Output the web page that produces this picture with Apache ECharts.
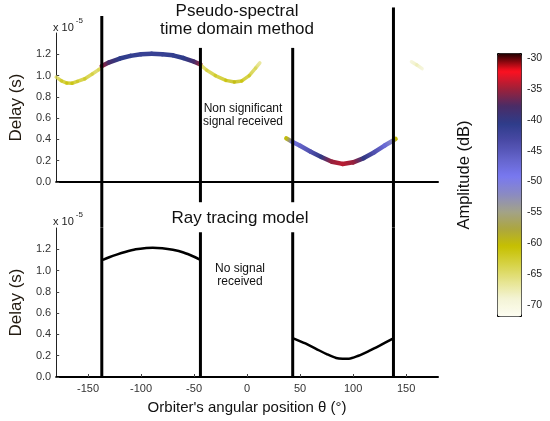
<!DOCTYPE html>
<html><head><meta charset="utf-8">
<script src="https://cdn.jsdelivr.net/npm/echarts@6/dist/echarts.min.js"></script>
<style>html,body{margin:0;padding:0;background:#fff}#c{width:550px;height:421px}</style>
</head><body><div id="c"></div>
<script>
const FONT = '"Liberation Sans", Arial, sans-serif';

// ---- Axis ticks ----
const angleTicks = [-150, -100, -50, 0, 50, 100, 150];
const delayTicks = [0, 0.2, 0.4, 0.6, 0.8, 1.0, 1.2];
const ampTicks = [-70, -65, -60, -55, -50, -45, -40, -35, -30];

// ---- Pseudo-spectral (top panel): angle (deg), delay (x1e-5 s), amplitude (dB) ----
const psYellowLeftAngle = [-180, -175, -170, -165, -160, -153, -146, -140, -137];
const psYellowLeftDelay = [0.985, 0.95, 0.93, 0.928, 0.945, 0.97, 1.015, 1.055, 1.08];
const psYellowLeftAmp   = [-64, -62, -61, -61, -62, -62, -63, -64, -65];

const psArc1Angle = [-137, -130, -120, -110, -100, -90, -80, -70, -60, -50, -44];
const psArc1Delay = [1.09, 1.125, 1.16, 1.185, 1.2, 1.205, 1.2, 1.19, 1.165, 1.13, 1.105];
const psArc1Amp   = [-35, -38, -40.5, -41, -41.5, -41.5, -41.5, -41, -40.5, -38, -35];

const psYellowMidAngle = [-44, -38, -30, -20, -12, -5, 2, 8, 12];
const psYellowMidDelay = [1.1, 1.05, 1.0, 0.955, 0.94, 0.95, 1.0, 1.07, 1.12];
const psYellowMidAmp   = [-64, -63, -62, -61, -60, -61, -62, -64, -66];

const psFaintRightAngle = [155, 160, 165];
const psFaintRightDelay = [1.13, 1.1, 1.065];
const psFaintRightAmp   = [-69, -68, -69];

const psArc2Angle = [37, 43, 50, 60, 70, 80, 90, 100, 110, 120, 130, 137, 140];
const psArc2Delay = [0.41, 0.375, 0.34, 0.285, 0.235, 0.19, 0.17, 0.185, 0.225, 0.28, 0.345, 0.385, 0.405];
const psArc2Amp   = [-60, -48, -46, -44, -40, -35, -34, -35, -40, -44, -47, -52, -60];

// ---- Ray tracing (bottom panel) ----
const rtArc1Angle = [-136, -130, -123, -115, -105, -95, -89, -80, -70, -60, -50, -45];
const rtArc1Delay = [1.10, 1.125, 1.15, 1.175, 1.2, 1.213, 1.215, 1.21, 1.195, 1.17, 1.13, 1.105];
const rtArc2Angle = [43, 55, 65, 75, 84, 90, 96, 105, 115, 125, 137];
const rtArc2Delay = [0.366, 0.315, 0.265, 0.215, 0.178, 0.172, 0.172, 0.2, 0.245, 0.295, 0.358];

// ---- Vertical boundary lines (angle, delay extents in each panel) ----
const boundaryAngle = [-137, -44, 43, 138];
const boundaryTopUpper = [1.56, 1.26, 1.26, 1.64];
const boundaryTopLower = [-0.43, -0.19, -0.19, -0.43];
const boundaryBottomUpper = [1.4, 1.36, 1.36, 1.4];
const boundaryBottomLower = [0, 0, 0, 0];

// ---- Colour scale ----
const ampColors = ['#fdfdf2', '#f4f4d6', '#e6e48e', '#d6d244', '#c6c000', '#aca640', '#a2a28a',
  '#8a8ac4', '#7878f0', '#6464ca', '#4a4aa6', '#2e3c8a', '#4a2c66', '#a02038', '#ff1020', '#200000'];

// build custom-series data
const segments = [
  [psYellowLeftAngle, psYellowLeftDelay, psYellowLeftAmp],
  [psArc1Angle, psArc1Delay, psArc1Amp],
  [psYellowMidAngle, psYellowMidDelay, psYellowMidAmp],
  [psFaintRightAngle, psFaintRightDelay, psFaintRightAmp],
  [psArc2Angle, psArc2Delay, psArc2Amp]
];
const psData = [];
segments.forEach((s, k) => s[0].forEach((a, i) => psData.push([a, s[1][i], s[2][i], k])));

function renderSegment(params, api) {
  const i = params.dataIndexInside;
  if (i >= params.dataInsideLength - 1) return null;
  if (api.value(3, i + 1) !== api.value(3)) return null;
  const p0 = api.coord([api.value(0), api.value(1)]);
  const p1 = api.coord([api.value(0, i + 1), api.value(1, i + 1)]);
  const c0 = api.visual('color');
  const c1 = api.visual('color', i + 1);
  const weak = api.value(2) < -55 && api.value(2, i + 1) < -55;
  return {
    type: 'line',
    shape: { x1: p0[0], y1: p0[1], x2: p1[0], y2: p1[1] },
    style: {
      stroke: new echarts.graphic.LinearGradient(p0[0], p0[1], p1[0], p1[1],
        [{ offset: 0, color: c0 }, { offset: 1, color: c1 }], true),
      lineWidth: weak ? 3.5 : 4.5,
      lineCap: 'round',
      opacity: weak ? 0.8 : 1
    }
  };
}

function boundarySeries(xi, upper, lower) {
  return boundaryAngle.map((a, i) => ({
    type: 'line', xAxisIndex: xi, yAxisIndex: xi, clip: false, symbol: 'none', silent: true, z: 10,
    lineStyle: { color: '#000', width: 3 },
    data: [[a, upper[i]], [a, lower[i]]]
  }));
}

const labelStyle = { fontFamily: FONT, fontSize: 11, color: '#333' };

function delayAxis(gi) {
  return {
    type: 'value', gridIndex: gi, min: 0, max: 1.4,
    name: 'Delay (s)', nameLocation: 'middle', nameGap: 29,
    nameTextStyle: { fontFamily: FONT, fontSize: 17, color: '#221a10' },
    axisLine: { show: true, onZero: false, lineStyle: { color: '#222', width: 1 } },
    axisTick: { show: true, inside: true, length: 3, customValues: delayTicks, lineStyle: { color: '#444' } },
    axisLabel: Object.assign({ customValues: delayTicks, margin: 5, formatter: v => v.toFixed(1) }, labelStyle),
    splitLine: { show: false }
  };
}

const supRich = {
  a: { fontFamily: FONT, fontSize: 11, fontWeight: 'normal', color: '#222', lineHeight: 16, verticalAlign: 'bottom' },
  s: { fontFamily: FONT, fontSize: 8, fontWeight: 'normal', color: '#222', lineHeight: 16, verticalAlign: 'top', padding: [0, 0, 0, 2] }
};

const option = {
  animation: false,
  backgroundColor: '#fff',
  title: [
    { text: 'Pseudo-spectral\ntime domain method', left: 237, top: 2, textAlign: 'center', padding: 0,
      textStyle: { fontFamily: FONT, fontSize: 17, fontWeight: 'normal', color: '#111', lineHeight: 18 } },
    { text: 'Ray tracing model', left: 240, top: 209, textAlign: 'center', padding: 0,
      textStyle: { fontFamily: FONT, fontSize: 17, fontWeight: 'normal', color: '#111', lineHeight: 18 } },
    { text: 'Non significant\nsignal received', left: 243, top: 102, textAlign: 'center', padding: 0,
      textStyle: { fontFamily: FONT, fontSize: 12, fontWeight: 'normal', color: '#111', lineHeight: 13 } },
    { text: 'No signal\nreceived', left: 240, top: 262, textAlign: 'center', padding: 0,
      textStyle: { fontFamily: FONT, fontSize: 12, fontWeight: 'normal', color: '#111', lineHeight: 13 } },
    { text: '{a|x 10}{s|-5}', left: 53, top: 17, padding: 0, textStyle: { fontWeight: 'normal', rich: supRich } },
    { text: '{a|x 10}{s|-5}', left: 53, top: 211, padding: 0, textStyle: { fontWeight: 'normal', rich: supRich } }
  ],
  grid: [
    { left: 52, top: 33, width: 386, height: 149 },
    { left: 52, top: 228, width: 386, height: 149 },
    { left: 497, top: 58, width: 24, height: 247 }
  ],
  xAxis: [
    { type: 'value', gridIndex: 0, min: -180, max: 180,
      axisLine: { show: true, onZero: false, lineStyle: { color: '#000', width: 2 } },
      axisTick: { show: false }, axisLabel: { show: false }, splitLine: { show: false } },
    { type: 'value', gridIndex: 1, min: -180, max: 180,
      name: "Orbiter's angular position \u03b8 (\u00b0)", nameLocation: 'middle', nameGap: 23,
      nameTextStyle: { fontFamily: FONT, fontSize: 15, color: '#111' },
      axisLine: { show: true, onZero: false, lineStyle: { color: '#000', width: 2 } },
      axisTick: { show: true, inside: true, length: 3, customValues: angleTicks, lineStyle: { color: '#444' } },
      axisLabel: Object.assign({ customValues: angleTicks, margin: 6 }, labelStyle),
      splitLine: { show: false } },
    { type: 'value', gridIndex: 2, show: false, min: 0, max: 1 }
  ],
  yAxis: [
    delayAxis(0),
    delayAxis(1),
    { type: 'value', gridIndex: 2, position: 'right', min: -70, max: -30, interval: 5,
      axisLine: { show: false, onZero: false }, axisTick: { show: false }, splitLine: { show: false },
      axisLabel: { fontFamily: FONT, fontSize: 10.5, color: '#222', margin: 6, customValues: ampTicks } },
    { type: 'value', gridIndex: 2, position: 'left', min: -70, max: -30,
      name: 'Amplitude (dB)', nameLocation: 'middle', nameGap: 24,
      nameTextStyle: { fontFamily: FONT, fontSize: 16.5, color: '#111', padding: [0, 0, 0, 13] },
      axisLine: { show: false, onZero: false }, axisTick: { show: false }, axisLabel: { show: false }, splitLine: { show: false } }
  ],
  visualMap: {
    type: 'continuous', seriesIndex: 0, dimension: 2,
    min: -72, max: -29, calculable: false, hoverLink: false,
    left: 497, top: 53, itemWidth: 24, itemHeight: 263, padding: 0,
    borderColor: '#000', borderWidth: 1,
    text: null, showLabel: false,
    inRange: { color: ampColors }
  },
  series: [
    { type: 'custom', xAxisIndex: 0, yAxisIndex: 0, renderItem: renderSegment, data: psData,
      dimensions: ['angle', 'delay', 'amp', 'seg'], encode: { x: 0, y: 1 }, silent: true, z: 3 },
    { type: 'line', xAxisIndex: 1, yAxisIndex: 1, symbol: 'none', smooth: 0.3, silent: true,
      lineStyle: { color: '#000', width: 2.5 }, data: rtArc1Angle.map((a, i) => [a, rtArc1Delay[i]]) },
    { type: 'line', xAxisIndex: 1, yAxisIndex: 1, symbol: 'none', smooth: 0.3, silent: true,
      lineStyle: { color: '#000', width: 2.5 }, data: rtArc2Angle.map((a, i) => [a, rtArc2Delay[i]]) },
    ...boundarySeries(0, boundaryTopUpper, boundaryTopLower),
    ...boundarySeries(1, boundaryBottomUpper, boundaryBottomLower)
  ]
};
const chart = echarts.init(document.getElementById('c'));
chart.setOption(option);
</script></body></html>
